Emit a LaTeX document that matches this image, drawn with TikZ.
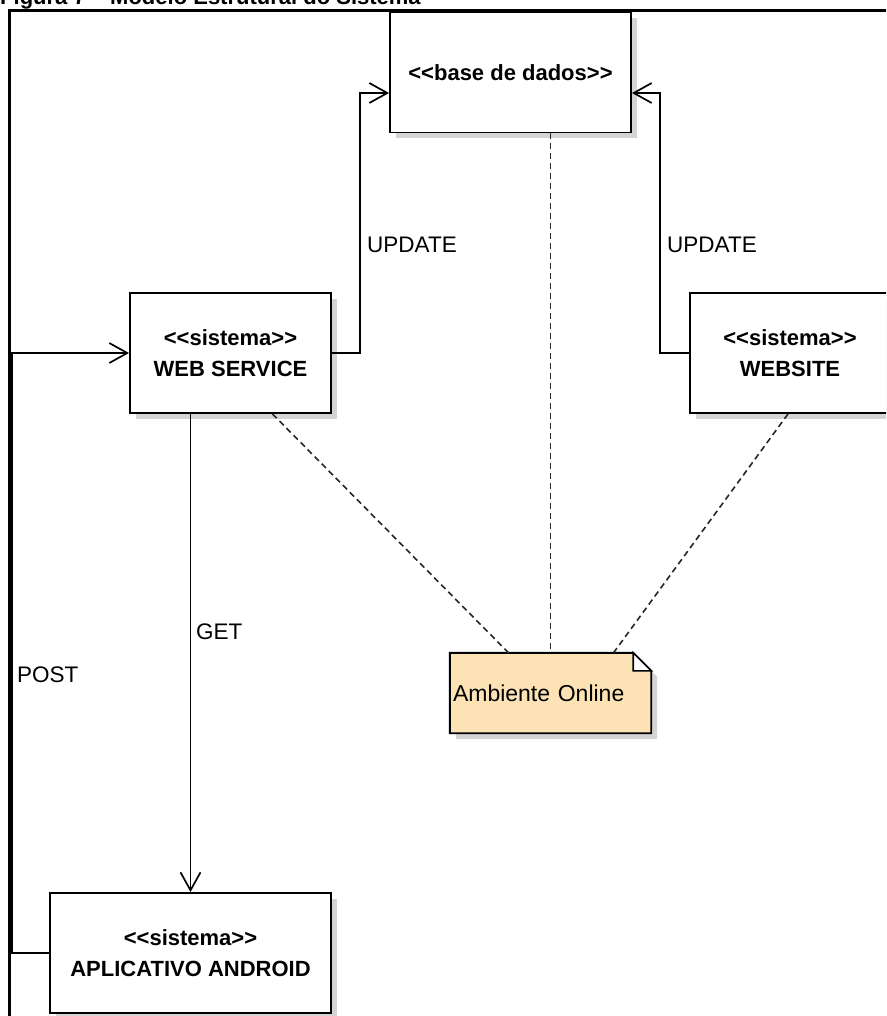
\documentclass[tikz,border=0pt]{standalone}
\usepackage{fontspec}
\setmainfont{Liberation Sans}[Ligatures=TeXOff]
\usetikzlibrary{arrows.meta,shadows}
\pgfdeclarelayer{background}
\pgfsetlayers{background,main}
\definecolor{notefill}{RGB}{252,226,181}
\definecolor{shadowgray}{RGB}{212,212,212}

\begin{document}
\begin{tikzpicture}[x=1pt,y=-1pt,
  sysbox/.style={draw=black, line width=1.9pt, fill=white, rectangle,
    minimum height=120pt, inner sep=0pt, align=center,
    font=\bfseries\fontsize{22}{31}\selectfont,
    drop shadow={shadow xshift=6pt,shadow yshift=-6pt,fill=shadowgray,opacity=1}},
  notebox/.style={rectangle, minimum width=201pt, minimum height=80pt,
    text width=195pt, inner xsep=3pt, inner ysep=0pt, align=left,
    font=\fontsize{23}{27}\selectfont},
  conn/.style={line width=1.7pt, -{Straight Barb[length=18pt,width=20pt,line width=1.7pt]}},
  tiedash/.style={line width=1.6pt, black!85, dash pattern=on 6pt off 4pt},
  lbl/.style={font=\fontsize{22.5}{27}\selectfont, anchor=west, inner sep=0pt},
  titletext/.style={font=\bfseries\fontsize{22}{26}\selectfont, anchor=base west, inner sep=0pt}
]
\useasboundingbox (0,0) rectangle (886,1016);
\clip (0,0) rectangle (886,1016);

% caption line, partly cut off by the page edge
\node[titletext] (title) at (0,4.5) {Figura 7 – Modelo Estrutural do Sistema};

% outer frame
\draw[line width=2.4pt] (9.5,1030) -- (9.5,10.5) -- (900,10.5);

% components
\node[sysbox, minimum width=241pt] (db) at (510.5,72.5) {<<base de dados>>};
\node[sysbox, minimum width=201pt] (ws) at (230.5,353) {<<sistema>>\\WEB SERVICE};
\node[sysbox, minimum width=200pt] (site) at (790,353) {<<sistema>>\\WEBSITE};
\node[sysbox, minimum width=281pt] (app) at (190.5,953) {<<sistema>>\\APLICATIVO ANDROID};

% note with folded corner
\node[notebox] (note) at (550.5,693) {Ambiente Online};
\begin{pgfonlayer}{background}
  \fill[shadowgray] ([shift={(6,6)}]note.north west) -- ([shift={(-12,6)}]note.north east)
    -- ([shift={(6,24)}]note.north east) -- ([shift={(6,6)}]note.south east)
    -- ([shift={(6,6)}]note.south west) -- cycle;
  \filldraw[fill=notefill, line width=1.9pt] (note.north west) -- ([xshift=-18pt]note.north east)
    -- ([yshift=-18pt]note.north east) -- (note.south east) -- (note.south west) -- cycle;
  \filldraw[fill=white, line width=1.6pt] ([xshift=-18pt]note.north east)
    -- ([shift={(-18,18)}]note.north east) -- ([yshift=-18pt]note.north east) -- cycle;
\end{pgfonlayer}

% bend points of the connectors
\coordinate (uL) at (360,93);
\coordinate (uR) at (660,93);
\coordinate (pL) at (12,953);

\draw[conn] (ws.east) -| (uL) -- (uL -| db.west);
\draw[conn] (site.west) -| (uR) -- (uR -| db.east);
\draw[conn] (app.west) -- (pL) |- (ws.west);
\draw[conn] (ws.south -| app.north) -- (app.north);

% note anchors
\draw[tiedash] (db.south -| note.north) -- (note.north);
\draw[tiedash] ([xshift=42pt]ws.south) -- ([xshift=-42pt]note.north);
\draw[tiedash] ([xshift=-2pt]site.south) -- ([xshift=63pt]note.north);

% connector labels
\node[lbl] (upd1) at (367,245) {UPDATE};
\node[lbl] (upd2) at (667,245) {UPDATE};
\node[lbl] (get) at (196,632) {GET};
\node[lbl] (post) at (17,675) {POST};
\end{tikzpicture}
\end{document}
